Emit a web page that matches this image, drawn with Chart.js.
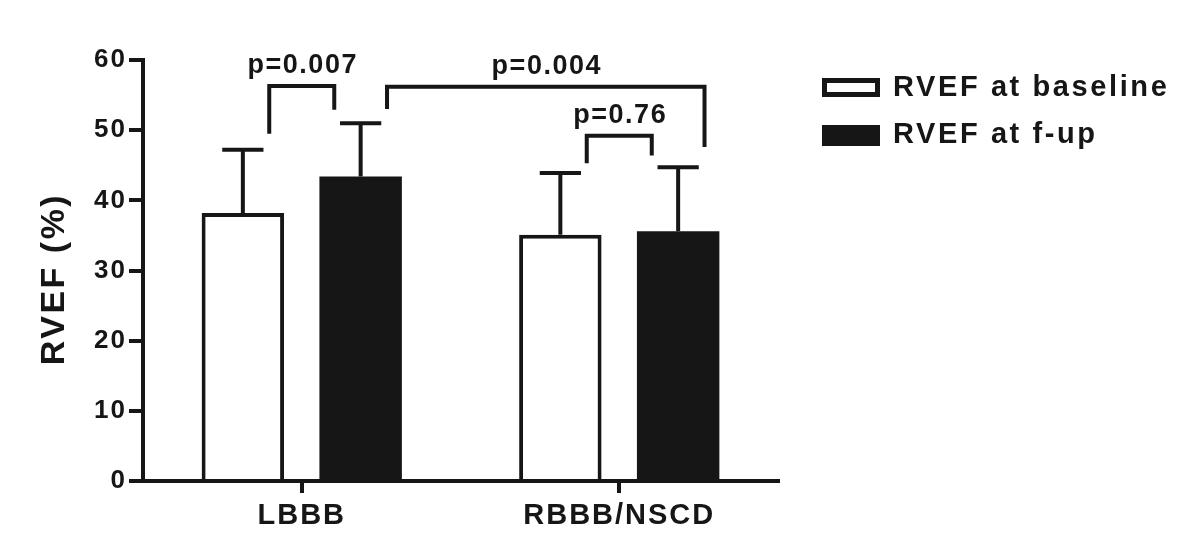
<!DOCTYPE html>
<html>
<head>
<meta charset="utf-8">
<script src="https://cdn.jsdelivr.net/npm/chart.js@4.4.1/dist/chart.umd.min.js"></script>
<style>
  html, body { margin: 0; padding: 0; background: #fff; }
  #wrap { width: 1200px; height: 558px; }
</style>
</head>
<body>
<div id="wrap"><canvas id="chart" width="1200" height="558"></canvas></div>
<script>
// ---- data ----
const categories = ["LBBB", "RBBB/NSCD"];
const seriesNames = ["RVEF at baseline", "RVEF at f-up"];
const baselineMean = [38.2, 35.1];
const followupMean = [43.4, 35.6];
const baselineErrTop = [47.2, 43.9];
const followupErrTop = [51.0, 44.7];
const yTicks = [0, 10, 20, 30, 40, 50, 60];
const yTitle = "RVEF (%)";

// significance brackets: [category, dataset] pairs, heights in RVEF units
const bracketText = ["p=0.007", "p=0.004", "p=0.76"];
const bracketFrom = [[0, 0], [0, 1], [1, 0]];
const bracketTo = [[0, 1], [1, 1], [1, 1]];
const bracketTop = [56.3, 56.2, 49.2];
const bracketFromEnd = [49.5, 53.0, 45.3];
const bracketToEnd = [52.9, 47.6, 46.4];
const bracketToSide = [-1, 1, -1];

const INK = "#161616";
const FONT = "'Liberation Sans', Arial, sans-serif";

// ====== error bars (upper SD only) ======
const errorBars = {
    id: "errorBars",
    afterDatasetsDraw(chart) {
        const ctx = chart.ctx;
        const y = chart.scales.y;
        const tops = [baselineErrTop, followupErrTop];
        ctx.save();
        ctx.strokeStyle = INK;
        ctx.lineWidth = 4;
        tops.forEach((arr, ds) => {
            const meta = chart.getDatasetMeta(ds);
            meta.data.forEach((bar, i) => {
                const yTop = y.getPixelForValue(arr[i]);
                const half = bar.width * 0.25;
                ctx.beginPath();
                ctx.moveTo(bar.x, bar.y);
                ctx.lineTo(bar.x, yTop);
                ctx.moveTo(bar.x - half, yTop);
                ctx.lineTo(bar.x + half, yTop);
                ctx.stroke();
            });
        });
        ctx.restore();
    }
};

// ====== p-value brackets ======
const brackets = {
    id: "brackets",
    afterDatasetsDraw(chart) {
        const ctx = chart.ctx;
        const y = chart.scales.y;
        ctx.save();
        ctx.strokeStyle = INK;
        ctx.fillStyle = INK;
        ctx.lineWidth = 4;
        ctx.font = "bold 27px " + FONT;
        ctx.letterSpacing = "1.5px";
        ctx.textAlign = "center";
        ctx.textBaseline = "alphabetic";
        bracketText.forEach((txt, k) => {
            const a = chart.getDatasetMeta(bracketFrom[k][1]).data[bracketFrom[k][0]];
            const b = chart.getDatasetMeta(bracketTo[k][1]).data[bracketTo[k][0]];
            const x1 = a.x + a.width * 0.32;
            const x2 = b.x + bracketToSide[k] * b.width * 0.32;
            const yt = y.getPixelForValue(bracketTop[k]);
            ctx.beginPath();
            ctx.moveTo(x1, y.getPixelForValue(bracketFromEnd[k]));
            ctx.lineTo(x1, yt);
            ctx.lineTo(x2, yt);
            ctx.lineTo(x2, y.getPixelForValue(bracketToEnd[k]));
            ctx.stroke();
            ctx.fillText(txt, (x1 + x2) / 2 + 1, yt - 13);
        });
        ctx.restore();
    }
};

// ====== y title + legend on the right ======
const annotations = {
    id: "annotations",
    afterDraw(chart) {
        const ctx = chart.ctx;
        ctx.save();
        ctx.fillStyle = INK;
        // y axis title
        ctx.save();
        ctx.translate(55, 279);
        ctx.rotate(-Math.PI / 2);
        ctx.font = "bold 34px " + FONT;
        ctx.letterSpacing = "2.5px";
        ctx.textAlign = "center";
        ctx.textBaseline = "middle";
        ctx.fillText(yTitle, 0, 0);
        ctx.restore();

        ctx.font = "bold 29px " + FONT;
        ctx.letterSpacing = "2.6px";
        ctx.textAlign = "left";
        ctx.textBaseline = "middle";
        // baseline: open box
        ctx.strokeStyle = INK;
        ctx.lineWidth = 5;
        ctx.strokeRect(824.5, 80.5, 53, 14);
        ctx.fillText(seriesNames[0], 893, 88);
        // follow-up: filled box
        ctx.fillRect(822, 125, 58, 21);
        ctx.fillText(seriesNames[1], 893, 135);
        ctx.restore();
    }
};

const spacing = {
    id: "spacing",
    beforeDraw(chart) {
        chart.ctx.letterSpacing = "2px";
    }
};

new Chart(document.getElementById("chart").getContext("2d"), {
    type: "bar",
    data: {
        labels: categories,
        datasets: [
            {
                label: seriesNames[0],
                data: baselineMean,
                backgroundColor: "#ffffff",
                borderColor: INK,
                borderWidth: 4,
                borderSkipped: "bottom"
            },
            {
                label: seriesNames[1],
                data: followupMean,
                backgroundColor: INK,
                borderWidth: 0
            }
        ]
    },
    options: {
        responsive: false,
        animation: false,
        layout: { padding: { left: 0, top: 60, right: 422, bottom: 0 } },
        datasets: { bar: { categoryPercentage: 0.742, barPercentage: 0.70 } },
        plugins: {
            legend: { display: false },
            tooltip: { enabled: false }
        },
        scales: {
            x: {
                grid: {
                    offset: false,
                    drawOnChartArea: false,
                    drawTicks: true,
                    tickLength: 12,
                    lineWidth: 4,
                    color: INK
                },
                border: { display: true, width: 4, color: INK },
                ticks: {
                    color: INK,
                    padding: 6,
                    font: { family: FONT, size: 29, weight: "bold" }
                },
                afterFit: s => { s.height = 77; }
            },
            y: {
                min: 0,
                max: 60,
                afterBuildTicks: s => { s.ticks = yTicks.map(v => ({ value: v })); },
                grid: {
                    drawOnChartArea: false,
                    drawTicks: true,
                    tickLength: 14,
                    lineWidth: 4,
                    color: INK
                },
                border: { display: true, width: 4, color: INK },
                ticks: {
                    color: INK,
                    padding: 2,
                    font: { family: FONT, size: 26, weight: "bold" }
                },
                afterFit: s => { s.width = 143; }
            }
        }
    },
    plugins: [spacing, errorBars, brackets, annotations]
});
</script>
</body>
</html>
